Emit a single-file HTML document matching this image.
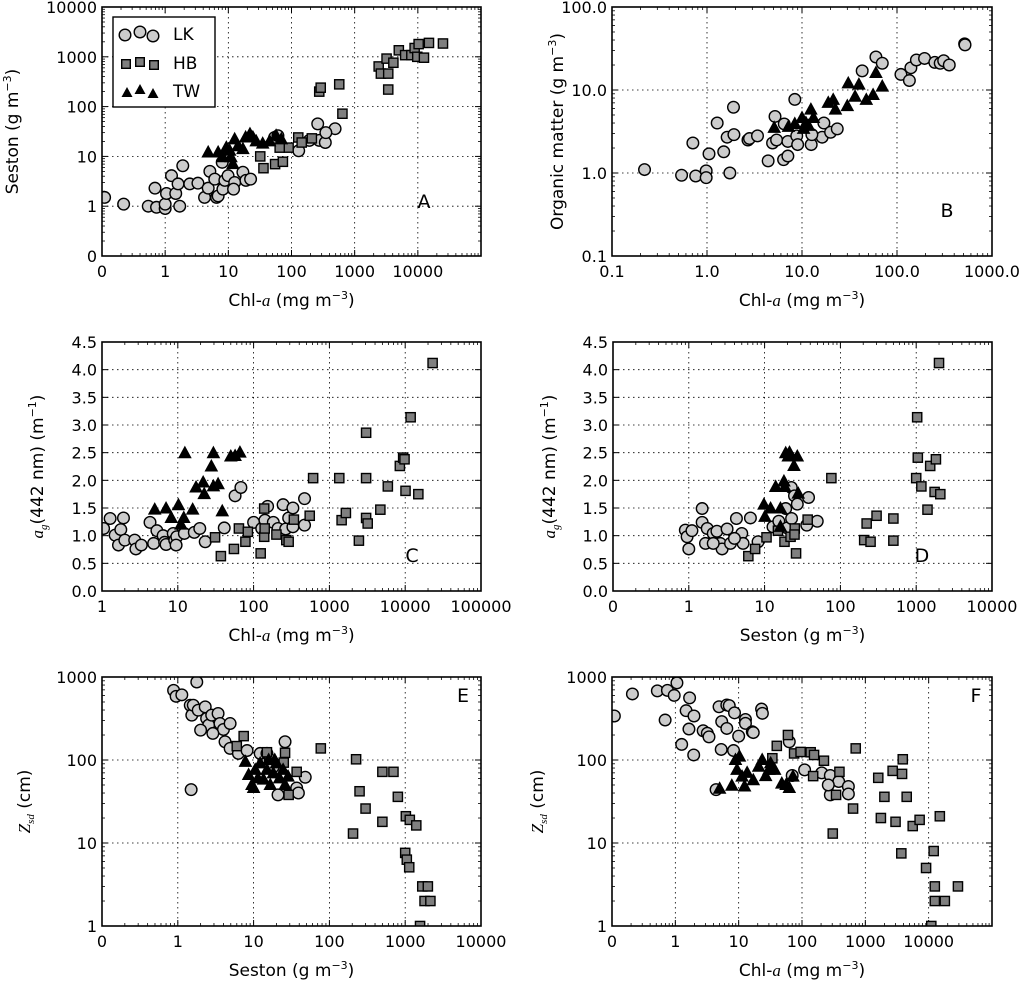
<!DOCTYPE html>
<html><head><meta charset="utf-8">
<style>
body{margin:0;background:#fff;}
svg{display:block;font-family:"DejaVu Sans","Liberation Sans",sans-serif;}
</style></head>
<body>
<svg id="fig" width="1024" height="982" viewBox="0 0 1024 982" xmlns="http://www.w3.org/2000/svg"></svg>
<script>
// ---------- DATA ----------
// Panel A: Chl-a vs Seston
const aLKx=[0.11,0.22,0.54,0.73,1,1,1.05,0.69,1.26,1.47,1.6,1.7,1.9,2.45,3.3,4.2,4.8,5.1,6.1,6.5,6.9,8.2,8.8,9.9,12.6,12.1,17,19,22.5,8,54,61,130,192,260,275,343,490,350];
const aLKy=[1.5,1.1,1.0,0.95,0.9,1.1,1.8,2.3,4.1,1.8,2.8,1.0,6.5,2.8,2.9,1.5,2.3,5,3.5,1.5,1.6,2.2,3.3,4.1,3,2.2,4.8,3.3,3.5,7.6,24,26,13,21,45,21,19,36,30];
const aHBx=[32,36,55,73,90,65,128,145,210,275,290,570,640,2400,2600,3200,3400,3400,4100,5000,6300,7900,8900,10300,9800,12500,15000,25000];
const aHBy=[10,5.8,7,7.8,15,15,24,19,23,200,240,280,72,640,460,920,460,220,760,1350,1080,1080,1500,1800,1000,960,1900,1850];
const aTWx=[4.8,6.9,8.2,9.3,10.5,11,11.8,12.6,14.2,17,18.8,22,24.5,27.6,35,45,57,69];
const aTWy=[12,12,9.6,15,13,9.6,7,22,16,14,24,28,24,20,18,20,26,22];
// Panel B: Chl-a vs Organic matter
const bLKx=[0.22,0.54,0.76,0.98,0.98,0.71,1.05,1.28,1.5,1.63,1.74,1.9,1.92,2.7,2.8,3.4,4.4,4.9,5.2,5.4,6.4,6.5,7.1,7.1,8.4,8.8,9,12.5,16.3,17,20,23.5,12.7,43,60,70,110,135,140,160,195,250,285,310,355,515,520];
const bLKy=[1.1,0.94,0.92,1.06,0.88,2.3,1.7,4.0,1.8,2.7,1.0,6.2,2.9,2.5,2.6,2.8,1.4,2.3,4.8,2.5,1.45,3.9,1.6,2.4,7.7,2.8,2.2,2.2,2.7,4,3.1,3.4,2.9,17,25,21,15.4,13,18.5,23,24,21.5,21,22.5,20,36,35];
const bTWx=[5.1,7.2,8.4,10,10.4,11,11.7,12.4,13.2,18.9,21.3,22.5,30,30.7,39.7,36.2,47.5,56,60,70];
const bTWy=[3.5,3.6,3.9,4.6,3.4,4,3.7,5.8,4.6,7,7.6,5.8,6.4,12,11.6,8.3,7.6,8.7,16,11];
// Panel C: Chl-a vs ag(442)
const cLKx=[1.05,1.28,1.49,1.65,1.77,1.92,2,2.7,2.8,3.3,4.3,4.8,5.3,6.4,6.7,7,8.7,9.1,9.7,12.2,16.5,19.5,23,41,57,68,100,128,141,153,182,210,245,265,290,330,330,470,470,9.5];
const cLKy=[1.13,1.31,1.01,0.83,1.11,1.32,0.92,0.92,0.76,0.83,1.24,0.86,1.09,1.0,0.88,0.84,1.04,0.92,0.98,1.04,1.06,1.13,0.89,1.14,1.72,1.87,1.24,1.13,1.28,1.53,1.24,1.13,1.56,1.12,1.32,1.5,1.16,1.67,1.19,0.83];
const cHBx=[31,37,55,64,78,84,124,138,138,140,200,270,290,340,550,610,1350,1450,1650,2450,3050,3050,3050,3200,4700,5900,8500,9400,9800,10100,11800,14900,23000];
const cHBy=[0.97,0.63,0.76,1.13,0.89,1.07,0.68,1.49,0.98,1.13,1.02,0.92,0.89,1.29,1.36,2.04,2.04,1.28,1.41,0.91,2.86,2.04,1.32,1.22,1.47,1.89,2.26,2.41,2.38,1.81,3.14,1.75,4.12];
const cTWx=[4.96,7,8.2,10.2,11,12,12.4,15.7,17.4,21.6,22.3,27.7,29.5,29.5,34,38.6,50,57,66];
const cTWy=[1.47,1.49,1.32,1.55,1.2,1.32,2.49,1.47,1.87,1.96,1.75,2.25,2.49,1.89,1.93,1.44,2.43,2.44,2.5];
// Panel D: Seston vs ag(442)
const dLKx=[0.9,0.95,1,1.1,1.5,1.5,1.66,1.75,2.1,2.35,2.6,2.75,3.2,3.55,4.25,5,5.2,6.5,8.2,12.9,15.4,19,19.9,22.5,22.7,24.8,27,38,36,49.5,2.1,4];
const dLKy=[1.1,0.98,0.76,1.09,1.49,1.24,0.86,1.13,1.04,1.08,0.86,0.76,1.12,0.86,1.31,1.04,0.86,1.32,0.89,1.16,1.26,1.49,1.14,1.87,1.31,1.72,1.57,1.69,1.19,1.26,0.86,0.95];
const dHBx=[6.1,7.5,10.6,15,18.3,22,25,24.8,26,37,76,206,222,250,300,500,500,1000,1030,1050,1170,1410,1530,1750,1820,2080,2000];
const dHBy=[0.63,0.76,0.97,1.09,0.89,0.98,1.13,1.02,0.68,1.29,2.04,0.92,1.22,0.89,1.36,1.31,0.91,2.04,3.14,2.41,1.89,1.47,2.26,1.79,2.38,1.75,4.12];
const dTWx=[9.8,10.1,12,14,16.2,18,18.5,19,20.5,21.3,24.4,27,27.8,16.2];
const dTWy=[1.56,1.34,1.49,1.88,1.49,1.98,1.88,2.49,2.43,2.5,2.26,2.43,1.76,1.16];
// Panel E: Seston vs Zsd
const eLKx=[0.88,0.95,1.13,1.78,1.46,1.53,1.6,1.86,2.3,2.4,2.55,2.8,3.4,3.6,4,4.9,4.2,4.9,6.3,8.2,12.2,15,16.6,18.2,26,37,39,48,21,1.5,2.9,2.0];
const eLKy=[690,585,610,870,457,347,457,398,437,316,263,347,363,275,233,275,166,138,120,130,120,120,100,83,166,46,40,62,38,44,209,229];
const eHBx=[6,7.4,15,26,25,37,29,77,205,225,250,300,500,500,700,800,1000,1050,1020,1150,1130,1400,1680,1990,1800,2150,1570];
const eHBy=[147,194,124,122,93,72,38,138,13,102,42,26,72,18,72,36,7.6,6.3,21,19,5.1,16.3,3,3,2,2,1];
const eTWx=[7.8,8.6,9.5,10.5,11.4,12.2,13.5,15,16.6,18.2,20,22,24.5,26,28.5,15.8,19,10];
const eTWy=[95,66,50,76,60,91,58,76,50,69,91,60,76,50,63,100,100,46];
// Panel F: Chl-a vs Zsd
const fLKx=[0.109,0.21,0.52,0.75,0.96,1.06,0.69,1.26,1.48,1.68,1.97,1.64,1.95,2.75,3.2,3.4,4.9,5.4,5.3,6.5,6.5,7.1,8.3,8.6,10,12.8,12.8,16.4,17,23,23.7,4.4,63,110,205,280,380,280,540,540,260,70];
const fLKy=[339,625,680,690,600,850,303,154,393,560,339,236,115,225,210,190,438,290,134,240,460,452,130,370,194,308,276,219,214,411,365,44,166,76,70,65,55,38,48,39,50,65];
const fHBx=[34,40,60,75,95,137,155,150,222,390,306,345,640,705,1600,1760,2000,2700,3000,3700,3800,3900,4500,5600,7200,9100,12000,12500,12500,15000,18000,29000,11000];
const fHBy=[105,148,200,120,125,124,115,64,98,72,13,38,26,138,61,20,36,74,18,7.5,68,102,36,16,19,5,8,3,2,21,2,3,1];
const fTWx=[5,7.8,8.9,9.4,10.3,11.3,12.4,13.6,17,20.7,23.5,26.7,32,37,48,56,63,72,30];
const fTWy=[45,49,100,76,110,63,48,70,57,83,100,64,91,76,52,50,46,63,76];

// tick labels
const ticksA_x=["0","1","10","100","1000","10000"], ticksA_y=["0","1","10","100","1000","10000"];
const ticksB_x=["0.1","1.0","10.0","100.0","1000.0"], ticksB_y=["0.1","1.0","10.0","100.0"];
const ticksC_x=["1","10","100","1000","10000","100000"], ticksCD_y=["0.0","0.5","1.0","1.5","2.0","2.5","3.0","3.5","4.0","4.5"];
const ticksD_x=["0","1","10","100","1000","10000"];
const ticksE_x=["0","1","10","100","1000","10000"], ticksEF_y=["1","10","100","1000"];
const ticksF_x=["0","1","10","100","1000","10000"];

// ---------- DRAW ----------
const NS="http://www.w3.org/2000/svg";
const svg=document.getElementById('fig');
function el(tag,attrs,parent){const e=document.createElementNS(NS,tag);for(const k in attrs)e.setAttribute(k,attrs[k]);(parent||svg).appendChild(e);return e;}

function panel(cfg){
  const g=el('g',{});
  
  
  const {x0,x1,y0,y1}=cfg;
  const sx=v=>cfg.xlog? x0+(Math.log10(v)-cfg.xmin)/(cfg.xmax-cfg.xmin)*(x1-x0) : x0+(v-cfg.xmin)/(cfg.xmax-cfg.xmin)*(x1-x0);
  const sy=v=>cfg.ylog? y1-(Math.log10(v)-cfg.ymin)/(cfg.ymax-cfg.ymin)*(y1-y0) : y1-(v-cfg.ymin)/(cfg.ymax-cfg.ymin)*(y1-y0);
  const xt=[];
  for(let d=cfg.xmin; d<=cfg.xmax; d++) xt.push(x0+(d-cfg.xmin)/(cfg.xmax-cfg.xmin)*(x1-x0));
  xt.forEach((px,i)=>{
    if(i>0&&i<xt.length-1){const gl=el('line',{x1:px,x2:px,y1:y0,y2:y1,stroke:'#000','stroke-width':0.8,'stroke-dasharray':'1.5,3.5'},g);}
    el('line',{x1:px,x2:px,y1:y1,y2:y1-6,stroke:'#000','stroke-width':1},g);
    el('line',{x1:px,x2:px,y1:y0,y2:y0+6,stroke:'#000','stroke-width':1},g);
    if(i<xt.length-1) for(let m=2;m<10;m++){const mp=px+Math.log10(m)*(xt[1]-xt[0]);
      el('line',{x1:mp,x2:mp,y1:y1,y2:y1-3,stroke:'#000','stroke-width':0.8},g);
      el('line',{x1:mp,x2:mp,y1:y0,y2:y0+3,stroke:'#000','stroke-width':0.8},g);}
  });
  cfg.xlabels.forEach((t,i)=>{const tx=el('text',{x:xt[i],y:y1+21,'font-size':16,'text-anchor':'middle',fill:'#000'},g);tx.textContent=t;
    });
  let yt=[];
  if(cfg.ylog){for(let d=cfg.ymin;d<=cfg.ymax;d++) yt.push(y1-(d-cfg.ymin)/(cfg.ymax-cfg.ymin)*(y1-y0));}
  else {cfg.ylabels.forEach(t=>yt.push(sy(parseFloat(t))));}
  yt.forEach((py,i)=>{
    if(i>0&&i<yt.length-1){const gl=el('line',{x1:x0,x2:x1,y1:py,y2:py,stroke:'#000','stroke-width':0.8,'stroke-dasharray':'1.5,3.5'},g);}
    el('line',{x1:x0,x2:x0+6,y1:py,y2:py,stroke:'#000','stroke-width':1},g);
    el('line',{x1:x1,x2:x1-6,y1:py,y2:py,stroke:'#000','stroke-width':1},g);
    if(cfg.ylog && i<yt.length-1) for(let m=2;m<10;m++){const mp=py-Math.log10(m)*(yt[0]-yt[1]);
      el('line',{x1:x0,x2:x0+3,y1:mp,y2:mp,stroke:'#000','stroke-width':0.8},g);
      el('line',{x1:x1,x2:x1-3,y1:mp,y2:mp,stroke:'#000','stroke-width':0.8},g);}
  });
  cfg.ylabels.forEach((t,i)=>{const tx=el('text',{x:x0-5,y:yt[i]+6,'font-size':16,'text-anchor':'end',fill:'#000'},g);tx.textContent=t;
    });
  const clip=cfg.name+'-clip';
  const cp=el('clipPath',{id:clip},g); el('rect',{x:x0,y:y0,width:x1-x0,height:y1-y0},cp);
  const mg=el('g',{'clip-path':`url(#${clip})`},g);
  cfg.lk[0].forEach((v,i)=>{const c=el('circle',{cx:sx(v),cy:sy(cfg.lk[1][i]),r:5.8,fill:'#cccccc',stroke:'#000','stroke-width':1.4},mg);
    });
  if(cfg.hb) cfg.hb[0].forEach((v,i)=>{const r=el('rect',{x:sx(v)-4.6,y:sy(cfg.hb[1][i])-4.6,width:9.2,height:9.2,fill:'#7f7f7f',stroke:'#000','stroke-width':1.4},mg);
    });
  if(cfg.tw) cfg.tw[0].forEach((v,i)=>{const px=sx(v),py=sy(cfg.tw[1][i]);
    const p=el('polygon',{points:`${px},${py-6.5} ${px+6},${py+4.5} ${px-6},${py+4.5}`,fill:'#000',stroke:'#000','stroke-width':1},mg);
    });
  const fr=el('rect',{x:x0,y:y0,width:x1-x0,height:y1-y0,fill:'none',stroke:'#000','stroke-width':1.6},g);
  
  const pl=el('text',{x:cfg.lx,y:cfg.ly,'font-size':19,'text-anchor':'middle',fill:'#000'},g);pl.textContent=cfg.letter;
  
  const xl=el('text',{x:(x0+x1)/2,y:cfg.xly,'font-size':17,'text-anchor':'middle',fill:'#000'},g);
  xl.innerHTML=cfg.xlab; 
  const yl=el('text',{x:0,y:0,'font-size':17,'text-anchor':'middle',fill:'#000',transform:`translate(${cfg.ylx},${(y0+y1)/2}) rotate(-90)`},g);
  yl.innerHTML=cfg.ylab; 
}
const chl='Chl-<tspan font-style="italic" font-family="Liberation Serif, serif">a</tspan> (mg m<tspan font-size="11" dy="-7">−3</tspan><tspan dy="7">)</tspan>';
const ses='Seston (g m<tspan font-size="11" dy="-7">−3</tspan><tspan dy="7">)</tspan>';
const ag='<tspan font-style="italic" font-family="Liberation Serif, serif">a</tspan><tspan font-style="italic" font-size="11" dy="4" font-family="Liberation Serif, serif">g</tspan><tspan dy="-4">(442 nm) (m</tspan><tspan font-size="11" dy="-7">−1</tspan><tspan dy="7">)</tspan>';
const zsd='<tspan font-style="italic" font-family="Liberation Serif, serif">Z</tspan><tspan font-style="italic" font-size="11" dy="4" font-family="Liberation Serif, serif">sd</tspan><tspan dy="-4"> (cm)</tspan>';

panel({name:'panel-a',x0:102,x1:481,y0:7,y1:256,xlog:true,xmin:-1,xmax:5,ylog:true,ymin:-1,ymax:4,xlabels:ticksA_x,ylabels:ticksA_y,
  lk:[aLKx,aLKy],hb:[aHBx,aHBy],tw:[aTWx,aTWy],letter:'A',lx:424,ly:208,xlab:chl,xly:306,ylab:'Seston (g m<tspan font-size="11" dy="-7">−3</tspan><tspan dy="7">)</tspan>',ylx:18});
panel({name:'panel-b',x0:612,x1:992,y0:7,y1:256,xlog:true,xmin:-1,xmax:3,ylog:true,ymin:-1,ymax:2,xlabels:ticksB_x,ylabels:ticksB_y,
  lk:[bLKx,bLKy],tw:[bTWx,bTWy],letter:'B',lx:947,ly:217,xlab:chl,xly:306,ylab:'Organic matter (g m<tspan font-size="11" dy="-7">−3</tspan><tspan dy="7">)</tspan>',ylx:563});
panel({name:'panel-c',x0:102,x1:481,y0:342,y1:591,xlog:true,xmin:0,xmax:5,ylog:false,ymin:0,ymax:4.5,xlabels:ticksC_x,ylabels:ticksCD_y,
  lk:[cLKx,cLKy],hb:[cHBx,cHBy],tw:[cTWx,cTWy],letter:'C',lx:412,ly:562,xlab:chl,xly:641,ylab:ag,ylx:43});
panel({name:'panel-d',x0:613,x1:992,y0:342,y1:591,xlog:true,xmin:-1,xmax:4,ylog:false,ymin:0,ymax:4.5,xlabels:ticksD_x,ylabels:ticksCD_y,
  lk:[dLKx,dLKy],hb:[dHBx,dHBy],tw:[dTWx,dTWy],letter:'D',lx:922,ly:562,xlab:ses,xly:641,ylab:ag,ylx:555});
panel({name:'panel-e',x0:102,x1:481,y0:677,y1:926,xlog:true,xmin:-1,xmax:4,ylog:true,ymin:0,ymax:3,xlabels:ticksE_x,ylabels:ticksEF_y,
  lk:[eLKx,eLKy],hb:[eHBx,eHBy],tw:[eTWx,eTWy],letter:'E',lx:463,ly:702,xlab:ses,xly:976,ylab:zsd,ylx:30});
panel({name:'panel-f',x0:612,x1:992,y0:677,y1:926,xlog:true,xmin:-1,xmax:5,ylog:true,ymin:0,ymax:3,xlabels:ticksF_x,ylabels:ticksEF_y,
  lk:[fLKx,fLKy],hb:[fHBx,fHBy],tw:[fTWx,fTWy],letter:'F',lx:976,ly:702,xlab:chl,xly:976,ylab:zsd,ylx:543});

// legend
const lg=el('g',{});


el('rect',{x:113,y:17,width:102,height:90,fill:'#fff',stroke:'#000','stroke-width':1.4},lg);
[[125,35],[140,32],[153,36]].forEach(p=>el('circle',{cx:p[0],cy:p[1],r:5.8,fill:'#cccccc',stroke:'#000','stroke-width':1.4},lg));
[[126,64],[140,62],[154,65]].forEach(p=>el('rect',{x:p[0]-4.3,y:p[1]-4.3,width:8.6,height:8.6,fill:'#7f7f7f',stroke:'#000','stroke-width':1.4},lg));
[[127,93],[140,90],[153,94]].forEach(p=>el('polygon',{points:`${p[0]},${p[1]-6} ${p[0]+5.5},${p[1]+4} ${p[0]-5.5},${p[1]+4}`,fill:'#000'},lg));
[['LK',40],['HB',69],['TW',97]].forEach(t=>{const tx=el('text',{x:173,y:t[1],'font-size':17,fill:'#000'},lg);tx.textContent=t[0];
  });
</script>
</body></html>
